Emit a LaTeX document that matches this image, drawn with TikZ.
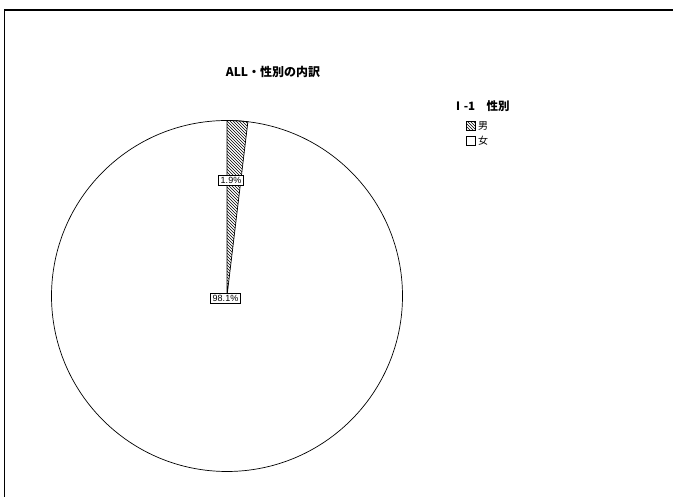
\documentclass[tikz,border=0pt]{standalone}
\usepackage{fontspec}
\setmainfont{Liberation Sans}
\newfontfamily\jp{Noto Sans CJK JP}
\usetikzlibrary{patterns,positioning}

\tikzset{
	pct/.style={draw,fill=white,inner xsep=2.4pt,inner ysep=2pt,line width=0.6pt,font=\fontsize{9}{10}\selectfont},
	legbox/.style={draw,line width=0.6pt,minimum size=9pt,inner sep=0pt},
	legtxt/.style={inner sep=0pt,font=\jp\fontsize{10}{11}\selectfont},
}

\begin{document}
\begin{tikzpicture}[x=1pt,y=1pt]
		\useasboundingbox (0,0) rectangle (673,497);
		\draw[line width=1.6pt] (4.5,0) -- (4.5,487) -- (673,487);
		\coordinate (c) at (227,201);
		\draw[line width=0.7pt,fill=white] (c) circle (175.5);
		\draw[line width=0.7pt,pattern=north west lines] (c) -- ++(90:175.5) arc[start angle=90,end angle=83.16,radius=175.5] -- cycle;
		\node[pct] (p1) at (231,317) {1.9\%};
		\node[pct] (p2) at (225.5,199) {98.1\%};
		\node[font=\jp\bfseries\fontsize{12}{14}\selectfont] (title) at (273,425) {ALL・性別の内訳};
		\node[font=\jp\bfseries\fontsize{11.5}{13}\selectfont] (lgtitle) at (481,391) {Ⅰ-1　性別};
		\foreach \n/\y/\t in {m/371/男,f/356/女} \node[legbox] (lg\n) at (471,\y) {} node[legtxt,right=2pt of lg\n] (lg\n t) {\t};
		\fill[pattern=north west lines] (lgm.south west) rectangle (lgm.north east);
\end{tikzpicture}
\end{document}
